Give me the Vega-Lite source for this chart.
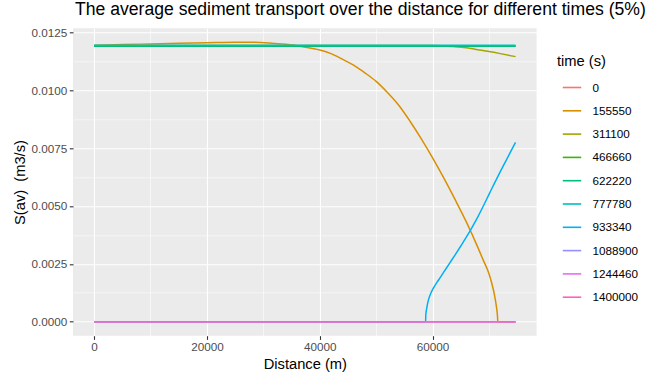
{
  "$schema": "https://vega.github.io/schema/vega-lite/v6.json",
  "autosize": "none",
  "width": 463.6,
  "height": 307.4,
  "padding": {"left": 73, "top": 28.3, "right": 109.4, "bottom": 40.3},
  "background": "white",
  "title": {
    "text": "The average sediment transport over the distance for different times (5%)",
    "anchor": "start",
    "frame": "group",
    "font": "Liberation Sans",
    "fontSize": 17.6,
    "fontWeight": "normal",
    "color": "black",
    "offset": 9,
    "dx": 2
  },
  "config": {
    "view": {"fill": "#EBEBEB", "stroke": null},
    "font": "Liberation Sans"
  },
  "data": {
    "values": [
      {"x": 0, "S": 0.01192, "time": "0"},
      {"x": 74700, "S": 0.01192, "time": "0"},

      {"x": 0, "S": 0.01193, "time": "155550"},
      {"x": 5000, "S": 0.01197, "time": "155550"},
      {"x": 10000, "S": 0.01200, "time": "155550"},
      {"x": 15000, "S": 0.01203, "time": "155550"},
      {"x": 20000, "S": 0.01205, "time": "155550"},
      {"x": 25000, "S": 0.01207, "time": "155550"},
      {"x": 28000, "S": 0.01207, "time": "155550"},
      {"x": 31000, "S": 0.01204, "time": "155550"},
      {"x": 34000, "S": 0.01198, "time": "155550"},
      {"x": 37000, "S": 0.01188, "time": "155550"},
      {"x": 40000, "S": 0.01174, "time": "155550"},
      {"x": 42000, "S": 0.01158, "time": "155550"},
      {"x": 44000, "S": 0.01134, "time": "155550"},
      {"x": 46000, "S": 0.01108, "time": "155550"},
      {"x": 48000, "S": 0.01075, "time": "155550"},
      {"x": 50000, "S": 0.01038, "time": "155550"},
      {"x": 52000, "S": 0.00990, "time": "155550"},
      {"x": 54000, "S": 0.00935, "time": "155550"},
      {"x": 56000, "S": 0.00866, "time": "155550"},
      {"x": 58000, "S": 0.00790, "time": "155550"},
      {"x": 60000, "S": 0.00708, "time": "155550"},
      {"x": 62000, "S": 0.00620, "time": "155550"},
      {"x": 64000, "S": 0.00527, "time": "155550"},
      {"x": 66000, "S": 0.00430, "time": "155550"},
      {"x": 68000, "S": 0.00322, "time": "155550"},
      {"x": 69000, "S": 0.00265, "time": "155550"},
      {"x": 70000, "S": 0.00207, "time": "155550"},
      {"x": 70500, "S": 0.00165, "time": "155550"},
      {"x": 71000, "S": 0.00112, "time": "155550"},
      {"x": 71300, "S": 0.00067, "time": "155550"},
      {"x": 71500, "S": 0.00025, "time": "155550"},
      {"x": 71560, "S": 0.0, "time": "155550"},
      {"x": 74700, "S": 0.0, "time": "155550"},

      {"x": 0, "S": 0.01193, "time": "311100"},
      {"x": 60000, "S": 0.01193, "time": "311100"},
      {"x": 62000, "S": 0.01191, "time": "311100"},
      {"x": 64000, "S": 0.01188, "time": "311100"},
      {"x": 66000, "S": 0.01183, "time": "311100"},
      {"x": 68000, "S": 0.01175, "time": "311100"},
      {"x": 70000, "S": 0.01167, "time": "311100"},
      {"x": 72000, "S": 0.01158, "time": "311100"},
      {"x": 74700, "S": 0.01145, "time": "311100"},

      {"x": 0, "S": 0.01190, "time": "466660"},
      {"x": 74700, "S": 0.01190, "time": "466660"},
      {"x": 0, "S": 0.01190, "time": "622220"},
      {"x": 74700, "S": 0.01190, "time": "622220"},
      {"x": 0, "S": 0.01194, "time": "777780"},
      {"x": 74700, "S": 0.01194, "time": "777780"},

      {"x": 0, "S": 0.0, "time": "933340"},
      {"x": 58760, "S": 0.0, "time": "933340"},
      {"x": 58800, "S": 0.0003, "time": "933340"},
      {"x": 58950, "S": 0.00057, "time": "933340"},
      {"x": 59200, "S": 0.00088, "time": "933340"},
      {"x": 59600, "S": 0.00118, "time": "933340"},
      {"x": 60200, "S": 0.00147, "time": "933340"},
      {"x": 61000, "S": 0.00178, "time": "933340"},
      {"x": 62000, "S": 0.00215, "time": "933340"},
      {"x": 63000, "S": 0.00252, "time": "933340"},
      {"x": 64000, "S": 0.00289, "time": "933340"},
      {"x": 65000, "S": 0.00327, "time": "933340"},
      {"x": 66000, "S": 0.00366, "time": "933340"},
      {"x": 67000, "S": 0.00408, "time": "933340"},
      {"x": 68000, "S": 0.00452, "time": "933340"},
      {"x": 69000, "S": 0.00500, "time": "933340"},
      {"x": 70000, "S": 0.00550, "time": "933340"},
      {"x": 71000, "S": 0.00600, "time": "933340"},
      {"x": 72000, "S": 0.00648, "time": "933340"},
      {"x": 73000, "S": 0.00695, "time": "933340"},
      {"x": 74000, "S": 0.00742, "time": "933340"},
      {"x": 74700, "S": 0.00775, "time": "933340"},

      {"x": 0, "S": 0.0, "time": "1088900"},
      {"x": 74700, "S": 0.0, "time": "1088900"},
      {"x": 0, "S": 0.0, "time": "1244460"},
      {"x": 74700, "S": 0.0, "time": "1244460"},
      {"x": 0, "S": 0.0, "time": "1400000"},
      {"x": 74700, "S": 0.0, "time": "1400000"}
    ]
  },
  "mark": {"type": "line", "strokeWidth": 1.5, "interpolate": "monotone"},
  "encoding": {
    "x": {
      "field": "x",
      "type": "quantitative",
      "scale": {"domain": [-3735, 78435], "nice": false, "zero": false},
      "axis": {
        "title": "Distance (m)",
        "values": [0, 10000, 20000, 30000, 40000, 50000, 60000, 70000],
        "labelExpr": "datum.value % 20000 != 0 ? '' : format(datum.value, 'd')",
        "grid": true,
        "gridColor": "white",
        "gridOpacity": 1,
        "gridWidth": {"condition": {"test": "datum.value % 20000 != 0", "value": 0.55}, "value": 1.1},
        "domain": false,
        "ticks": true,
        "tickColor": "#333333",
        "tickWidth": 1.1,
        "tickSize": 3.7,
        "tickOpacity": {"condition": {"test": "datum.value % 20000 != 0", "value": 0}, "value": 1},
        "labelFont": "Liberation Sans",
        "labelFontSize": 11.7,
        "labelColor": "#4D4D4D",
        "labelPadding": 2,
        "titleFont": "Liberation Sans",
        "titleFontSize": 14.7,
        "titleFontWeight": "normal",
        "titleColor": "black",
        "titlePadding": 3
      }
    },
    "y": {
      "field": "S",
      "type": "quantitative",
      "scale": {"domain": [-0.000604, 0.012674], "nice": false, "zero": false},
      "axis": {
        "title": "S(av) \u00a0(m3/s)",
        "values": [0, 0.00125, 0.0025, 0.00375, 0.005, 0.00625, 0.0075, 0.00875, 0.01, 0.01125, 0.0125],
        "labelExpr": "abs(datum.value/0.0025 - round(datum.value/0.0025)) > 0.1 ? '' : format(datum.value, '.4f')",
        "grid": true,
        "gridColor": "white",
        "gridOpacity": 1,
        "gridWidth": {"condition": {"test": "abs(datum.value/0.0025 - round(datum.value/0.0025)) > 0.1", "value": 0.55}, "value": 1.1},
        "domain": false,
        "ticks": true,
        "tickColor": "#333333",
        "tickWidth": 1.1,
        "tickSize": 3.7,
        "tickOpacity": {"condition": {"test": "abs(datum.value/0.0025 - round(datum.value/0.0025)) > 0.1", "value": 0}, "value": 1},
        "labelFont": "Liberation Sans",
        "labelFontSize": 11.7,
        "labelColor": "#4D4D4D",
        "labelPadding": 2.5,
        "titleFont": "Liberation Sans",
        "titleFontSize": 14.7,
        "titleFontWeight": "normal",
        "titleColor": "black",
        "titlePadding": 4
      }
    },
    "color": {
      "field": "time",
      "type": "nominal",
      "scale": {
        "domain": ["0", "155550", "311100", "466660", "622220", "777780", "933340", "1088900", "1244460", "1400000"],
        "range": ["#F8766D", "#D89000", "#A3A500", "#39B600", "#00BF7D", "#00BFC4", "#00B0F6", "#9590FF", "#E76BF3", "#FF62BC"]
      },
      "legend": {
        "title": "time (s)",
        "orient": "none",
        "legendX": 484,
        "legendY": 26,
        "padding": 0,
        "symbolType": "stroke",
        "symbolSize": 340,
        "symbolStrokeWidth": 1.6,
        "symbolOffset": 4.5,
        "labelOffset": 10,
        "rowPadding": 5.3,
        "titleFont": "Liberation Sans",
        "titleFontSize": 14.7,
        "titleFontWeight": "normal",
        "titleColor": "black",
        "titlePadding": 8,
        "labelFont": "Liberation Sans",
        "labelFontSize": 11.7,
        "labelColor": "black"
      }
    }
  }
}
